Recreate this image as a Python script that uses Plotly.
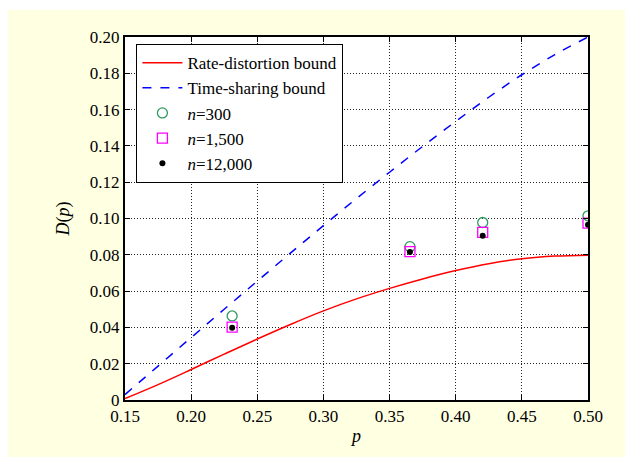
import plotly.graph_objects as go

# ---- data ----
p_curve = [0.15, 0.175, 0.20, 0.225, 0.25, 0.275, 0.30, 0.325, 0.35, 0.375, 0.40, 0.425, 0.45, 0.475, 0.50]
rate_distortion = [0.0008, 0.0085, 0.0168, 0.0253, 0.0336, 0.0416, 0.0491, 0.0557, 0.0615, 0.0667, 0.0713, 0.0751, 0.0778, 0.0793, 0.0798]
time_sharing = [0.003, 0.0187, 0.0344, 0.0500, 0.0655, 0.0809, 0.0961, 0.1110, 0.1255, 0.1397, 0.1535, 0.1668, 0.1792, 0.1903, 0.2000]

p_sim = [0.231, 0.3654, 0.4204, 0.50]
d_n300 = [0.0463, 0.0845, 0.0978, 0.1015]
d_n1500 = [0.0401, 0.0818, 0.0924, 0.0974]
d_n12000 = [0.0398, 0.0815, 0.0905, 0.0966]

x_tickvals = [0.15, 0.20, 0.25, 0.30, 0.35, 0.40, 0.45, 0.50]
x_ticktext = ["0.15", "0.20", "0.25", "0.30", "0.35", "0.40", "0.45", "0.50"]
y_tickvals = [0, 0.02, 0.04, 0.06, 0.08, 0.10, 0.12, 0.14, 0.16, 0.18, 0.20]
y_ticktext = ["0", "0.02", "0.04", "0.06", "0.08", "0.10", "0.12", "0.14", "0.16", "0.18", "0.20"]

FONT = "Liberation Serif, Times New Roman, serif"

fig = go.Figure()
fig.add_trace(go.Scatter(x=p_curve, y=rate_distortion, mode="lines", name="Rate-distortion bound",
                         line=dict(color="#FF0000", width=1.5, shape="spline")))
fig.add_trace(go.Scatter(x=p_curve, y=time_sharing, mode="lines", name="Time-sharing bound",
                         line=dict(color="#0000FF", width=1.5, dash="dash", shape="spline")))
fig.add_trace(go.Scatter(x=p_sim, y=d_n300, mode="markers", name="<i>n</i>=300",
                         marker=dict(symbol="circle-open", size=10, color="#2E9960", line=dict(width=1.3))))
fig.add_trace(go.Scatter(x=p_sim, y=d_n1500, mode="markers", name="<i>n</i>=1,500",
                         marker=dict(symbol="square-open", size=10, color="#FF00FF", line=dict(width=1.3))))
fig.add_trace(go.Scatter(x=p_sim, y=d_n12000, mode="markers", name="<i>n</i>=12,000",
                         marker=dict(symbol="circle", size=6, color="#000000")))

axis_common = dict(
    showline=True, linecolor="black", linewidth=2, mirror="allticks",
    ticks="inside", ticklen=5, tickcolor="black", tickwidth=1,
    showgrid=True, gridcolor="#222222", gridwidth=1, griddash="1px,2px",
    zeroline=False, tickfont=dict(family=FONT, size=17, color="black"),
)

fig.update_xaxes(range=[0.15, 0.50], tickvals=x_tickvals, ticktext=x_ticktext,
                 title=dict(text="<i>p</i>", font=dict(family=FONT, size=18, color="black"), standoff=4),
                 **axis_common)
fig.update_yaxes(range=[0, 0.20], tickvals=y_tickvals, ticktext=y_ticktext,
                 title=dict(text="<i>D</i>(<i>p</i>)", font=dict(family=FONT, size=18, color="black"), standoff=16),
                 **axis_common)

# page has an 8px body margin: figure is sized to fit the 633x457 window
fig.update_layout(
    width=625, height=449,
    margin=dict(l=117, r=45, t=29, b=57),
    paper_bgcolor="#FFFFE2", plot_bgcolor="white",
    font=dict(family=FONT, color="black"),
    showlegend=True,
    legend=dict(x=0.024, y=0.981, xanchor="left", yanchor="top",
                bgcolor="white", bordercolor="black", borderwidth=1.3,
                font=dict(family=FONT, size=17, color="black"),
                tracegroupgap=0, itemwidth=40),
    shapes=[
        dict(type="rect", xref="paper", yref="paper", x0=-0.5, x1=1.5, y0=(392 - 2) / 363, y1=1.2,
             fillcolor="white", line=dict(width=0), layer="below"),
    ],
)

fig.write_html("out.html")
